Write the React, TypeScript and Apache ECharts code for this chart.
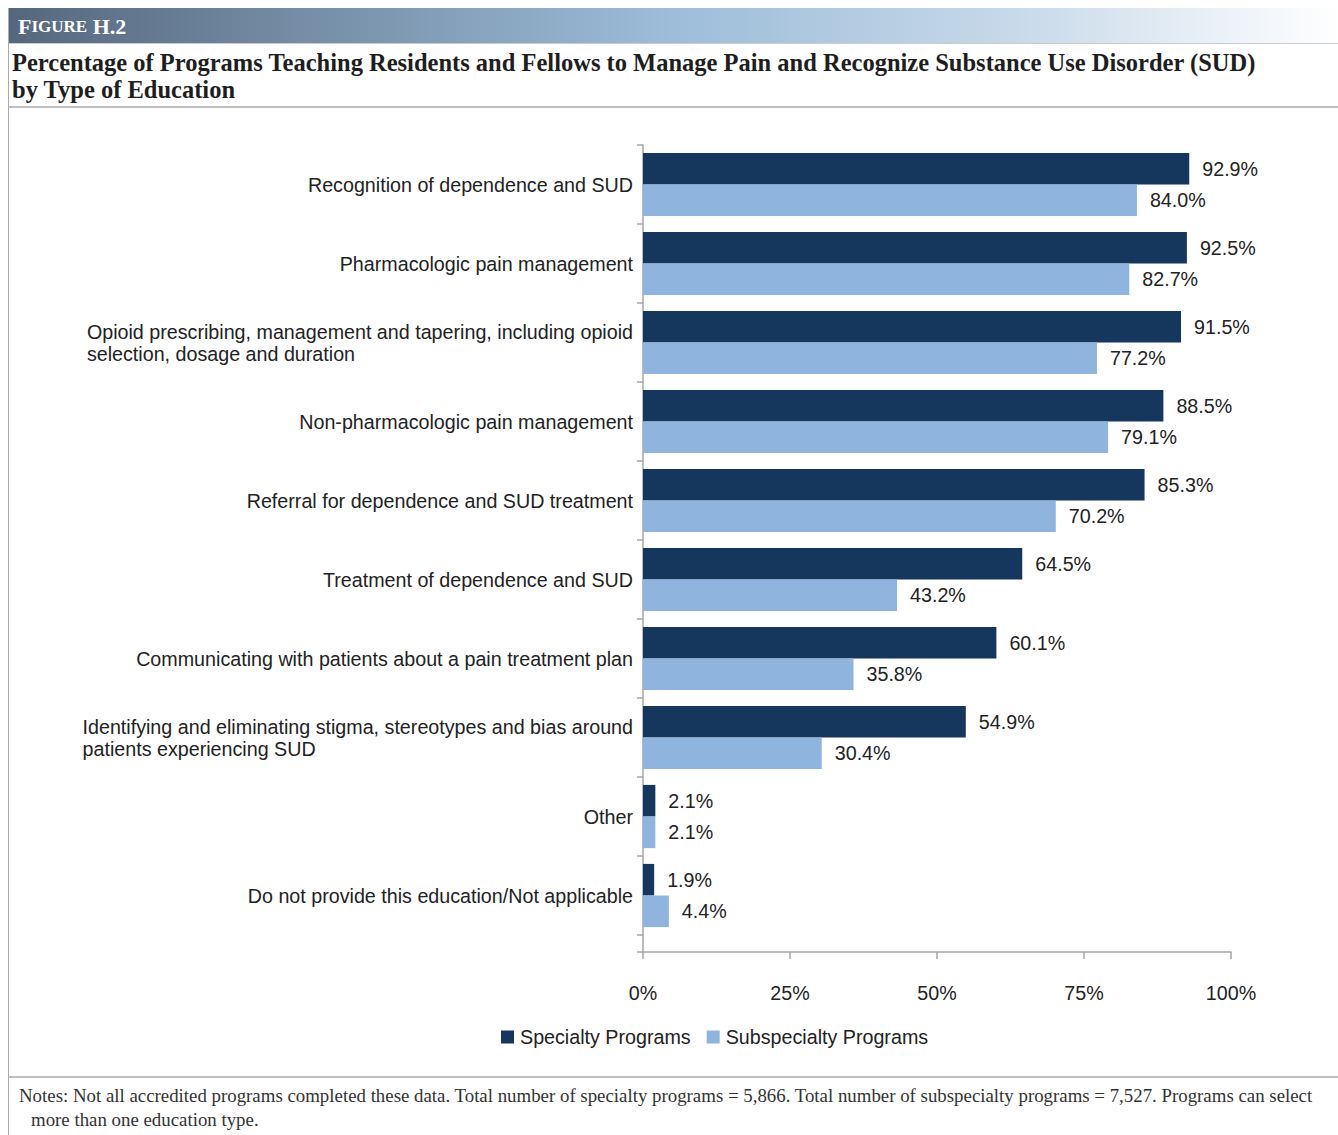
import React, { useEffect, useRef } from "react";
import * as echarts from "echarts";

const categories = [
  "Recognition of dependence and SUD",
  "Pharmacologic pain management",
  "Opioid prescribing, management and tapering, including opioid\nselection, dosage and duration",
  "Non-pharmacologic pain management",
  "Referral for dependence and SUD treatment",
  "Treatment of dependence and SUD",
  "Communicating with patients about a pain treatment plan",
  "Identifying and eliminating stigma, stereotypes and bias around\npatients experiencing SUD",
  "Other",
  "Do not provide this education/Not applicable",
];
const specialty = [92.9, 92.5, 91.5, 88.5, 85.3, 64.5, 60.1, 54.9, 2.1, 1.9];
const subspecialty = [84.0, 82.7, 77.2, 79.1, 70.2, 43.2, 35.8, 30.4, 2.1, 4.4];
const seriesNames = ["Specialty Programs", "Subspecialty Programs"];
const xTicks = [0, 25, 50, 75, 100];

const figureLabel = "H.2";
const titleLines = [
  "Percentage of Programs Teaching Residents and Fellows to Manage Pain and Recognize Substance Use Disorder (SUD)",
  "by Type of Education",
];
const noteLines = [
  "Notes: Not all accredited programs completed these data. Total number of specialty programs = 5,866. Total number of subspecialty programs = 7,527. Programs can select",
  "more than one education type.",
];

const SANS = "'Liberation Sans', Arial, sans-serif";
const SERIF = "'Liberation Serif', 'Times New Roman', serif";
const DARK = "#15375d";
const LIGHT = "#8fb4de";
const TXT = "#222222";
const AXIS = "#a6a6a6";
const FS = 19.7;

export default function App() {
  const ref = useRef<HTMLDivElement>(null);
  useEffect(() => {
    if (!ref.current) return;
    const chart = echarts.init(ref.current, null, { renderer: "svg" });
    const labelStyle = {
      show: true,
      position: "right" as const,
      distance: 13,
      fontFamily: SANS,
      fontSize: FS,
      color: TXT,
      formatter: (p: any) => Number(p.value).toFixed(1) + "%",
    };
    chart.setOption({
      animation: false,
      backgroundColor: "#ffffff",
      grid: { left: 643, right: 107, top: 145, bottom: 200, containLabel: false },
      xAxis: {
        type: "value",
        min: xTicks[0],
        max: xTicks[xTicks.length - 1],
        interval: 25,
        offset: 17,
        axisLine: { show: true, lineStyle: { color: AXIS, width: 1.5 } },
        axisTick: { show: true, inside: false, length: 7, lineStyle: { color: AXIS, width: 1.5 } },
        splitLine: { show: false },
        axisLabel: {
          margin: 31,
          fontFamily: SANS,
          fontSize: FS,
          color: TXT,
          formatter: "{value}%",
        },
      },
      yAxis: {
        type: "category",
        data: categories,
        inverse: true,
        axisLine: { show: true, lineStyle: { color: AXIS, width: 1.5 } },
        axisTick: { show: true, inside: false, length: 6, lineStyle: { color: AXIS, width: 1.5 } },
        axisLabel: {
          margin: 10,
          align: "right",
          formatter: (v: string) =>
            v
              .split("\n")
              .map((l) => "{l|" + l + "}")
              .join("\n"),
          rich: {
            l: {
              fontFamily: SANS,
              fontSize: FS,
              lineHeight: 22,
              color: TXT,
              align: "left",
            },
          },
        },
      },
      legend: {
        top: 1022,
        left: 496,
        data: seriesNames,
        icon: "rect",
        itemWidth: 13,
        itemHeight: 13,
        itemGap: 16,
        textStyle: { fontFamily: SANS, fontSize: FS, color: TXT, padding: [0, 0, 0, 1] },
      },
      series: [
        {
          name: seriesNames[0],
          type: "bar",
          data: specialty,
          barGap: "0%",
          barCategoryGap: "20%",
          itemStyle: { color: DARK },
          label: labelStyle,
        },
        {
          name: seriesNames[1],
          type: "bar",
          data: subspecialty,
          barGap: "0%",
          barCategoryGap: "20%",
          itemStyle: { color: LIGHT },
          label: labelStyle,
        },
      ],
      graphic: [
        {
          type: "rect",
          shape: { x: 8, y: 8, width: 1330, height: 35 },
          style: {
            fill: new echarts.graphic.LinearGradient(0, 0, 1, 0, [
              { offset: 0, color: "#55677d" },
              { offset: 0.5, color: "#9dbdd9" },
              { offset: 0.75, color: "#c6d8e9" },
              { offset: 1, color: "#ffffff" },
            ]),
          },
          silent: true,
        },
        {
          type: "text",
          x: 18,
          y: 26,
          style: {
            text: "{a|F}{b|IGURE}{a| " + figureLabel + "}",
            verticalAlign: "middle",
            rich: {
              a: { fontFamily: SERIF, fontWeight: "bold", fontSize: 22, fill: "#ffffff", color: "#ffffff" },
              b: { fontFamily: SERIF, fontWeight: "bold", fontSize: 17, fill: "#ffffff", color: "#ffffff" },
            },
          },
        },
        { type: "line", shape: { x1: 8, y1: 43.5, x2: 1338, y2: 43.5 }, style: { stroke: "#cccccc", lineWidth: 1 } },
        {
          type: "text",
          x: 12,
          y: 62,
          style: {
            text: titleLines[0],
            verticalAlign: "middle",
            fontFamily: SERIF,
            fontWeight: "bold",
            fontSize: 24.5,
            fill: "#1e1e1e",
          },
        },
        {
          type: "text",
          x: 12,
          y: 89,
          style: {
            text: titleLines[1],
            verticalAlign: "middle",
            fontFamily: SERIF,
            fontWeight: "bold",
            fontSize: 24.5,
            fill: "#1e1e1e",
          },
        },
        { type: "line", shape: { x1: 8, y1: 107, x2: 1338, y2: 107 }, style: { stroke: "#aaaaaa", lineWidth: 1.5 } },
        { type: "line", shape: { x1: 8.5, y1: 8, x2: 8.5, y2: 1135 }, style: { stroke: "#aaaaaa", lineWidth: 1 } },
        { type: "line", shape: { x1: 8, y1: 1077, x2: 1338, y2: 1077 }, style: { stroke: "#aaaaaa", lineWidth: 1.5 } },
        {
          type: "text",
          x: 19,
          y: 1095,
          style: {
            text: noteLines[0],
            verticalAlign: "middle",
            fontFamily: SERIF,
            fontSize: 18.85,
            fill: "#333333",
          },
        },
        {
          type: "text",
          x: 31,
          y: 1119,
          style: {
            text: noteLines[1],
            verticalAlign: "middle",
            fontFamily: SERIF,
            fontSize: 18.85,
            fill: "#333333",
          },
        },
        { type: "line", shape: { x1: 643, y1: 935, x2: 643, y2: 952 }, style: { stroke: AXIS, lineWidth: 1.5 } },
        { type: "line", shape: { x1: 637, y1: 952, x2: 643, y2: 952 }, style: { stroke: AXIS, lineWidth: 1.5 } },
      ],
    });
    return () => chart.dispose();
  }, []);
  return (
    <div
      ref={ref}
      style={{ position: "absolute", left: 0, top: 0, width: 1338, height: 1135, background: "#fff" }}
    />
  );
}
